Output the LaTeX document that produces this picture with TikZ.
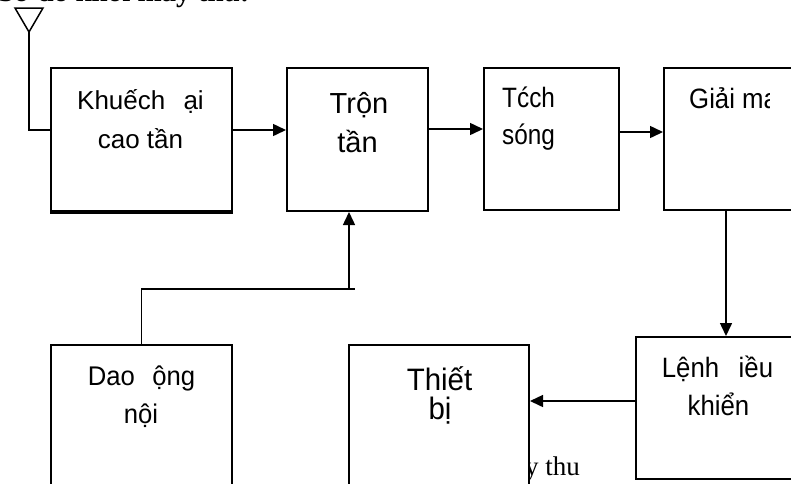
\documentclass[tikz,border=0pt]{standalone}
\usepackage{fontspec}
\setmainfont{Liberation Serif}
\newfontfamily\sfA{Liberation Sans}
\newfontfamily\sfB[FakeStretch=0.87]{Liberation Sans}
\newfontfamily\sfC[FakeStretch=0.95]{Liberation Sans}
\newfontfamily\sfD[FakeStretch=0.92]{Liberation Sans}
\usetikzlibrary{arrows.meta}
\begin{document}
\begin{tikzpicture}[x=1pt,y=-1pt,
  blk/.style={draw, line width=2pt, fill=white, inner sep=0pt},
  conn/.style={line width=1.5pt},
  arr/.style={conn, -{Triangle[length=13pt,width=12pt]}},
  lbl/.style={inner sep=0pt, anchor=base},
  lblw/.style={lbl, anchor=base west},
  fkd/.style={font=\sfA\fontsize{26}{30}\selectfont},
  ftr/.style={font=\sfA\fontsize{29}{33}\selectfont},
  fts/.style={font=\sfB\fontsize{28}{32}\selectfont},
  fgm/.style={font=\sfD\fontsize{28}{32}\selectfont},
  fdo/.style={font=\sfC\fontsize{27}{31}\selectfont},
  ftb/.style={font=\sfC\fontsize{31}{35}\selectfont},
  fle/.style={font=\sfD\fontsize{28}{32}\selectfont},
]
\useasboundingbox (0,0) rectangle (791,483);
% title (cut by the top edge)
\node[font=\bfseries\fontsize{29}{32}\selectfont, anchor=base west, inner sep=0pt] (title) at (-2,1.5) {Sơ đồ khối máy thu:};
% text partly hidden by the box
\node[font=\fontsize{27}{30}\selectfont, anchor=base west, inner sep=0pt] (yt) at (525,475) {y thu};
% boxes
\node[blk, minimum width=181pt, minimum height=143pt] (kd) at (141.5,139.5) {};
\node[blk, minimum width=141pt, minimum height=143pt] (tron) at (357.5,139.5) {};
\node[blk, minimum width=135pt, minimum height=142pt] (tach) at (551.5,139) {};
\node[blk, minimum width=146pt, minimum height=142pt] (giai) at (737,139) {};
\node[blk, minimum width=174pt, minimum height=142pt] (lenh) at (723,408) {};
\node[blk, minimum width=180pt, minimum height=175pt] (thiet) at (439,432.5) {};
\node[blk, minimum width=181pt, minimum height=175pt] (dao) at (141.5,432.5) {};
\draw[line width=3pt] (kd.south west) -- (kd.south east);
% labels
\node[lbl,fkd] (k1) at (140.5,109) {Khuếch\hspace{0.7em}ại};
\node[lbl,fkd] (k2) at (140.5,148) {cao tần};
\node[lbl,ftr] (r1) at (359,113) {Trộn};
\node[lbl,ftr] (r2) at (357.5,152) {tần};
\node[lblw,fts] (s1) at (502,107) {Tćch};
\node[lblw,fts] (s2) at (502,144) {sóng};
\begin{scope}
  \clip (666,60) rectangle (769,125);
  \node[lblw,fgm] (g1) at (689,108) {Giải ma};
\end{scope}
\node[lbl,fdo] (d1) at (141.5,385) {Dao\hspace{0.65em}ộng};
\node[lbl,fdo] (d2) at (141,423) {nội};
\node[lbl,ftb] (h1) at (439.5,390) {Thiết};
\node[lbl,ftb] (h2) at (440,419) {bị};
\node[lbl,fle] (l1) at (717.5,377) {Lệnh\hspace{0.7em}iều};
\node[lbl,fle] (l2) at (718.5,415) {khiển};
% antenna
\coordinate (ant) at (29,32);
\draw[conn] (15,8) -- (43,8) -- (ant) -- cycle;
\draw[conn] (ant) |- ([yshift=9.5pt]kd.west);
% connectors
\draw[arr] ([yshift=9.5pt]kd.east) -- ([yshift=9.5pt]tron.west);
\draw[arr] ([yshift=10.5pt]tron.east) -- ([yshift=10pt]tach.west);
\draw[arr] ([yshift=7pt]tach.east) -- ([yshift=7pt]giai.west);
\coordinate (xg) at (726,0);
\draw[arr] (giai.south -| xg) -- (lenh.north -| xg);
\coordinate (yl) at (0,401);
\draw[arr] (lenh.west |- yl) -- (thiet.east |- yl);
\coordinate (jx) at (355,289);
\coordinate (lo) at (349,289);
\draw[conn] (dao.north) |- (jx);
\draw[arr] (lo) -- (tron.south -| lo);
\end{tikzpicture}
\end{document}
